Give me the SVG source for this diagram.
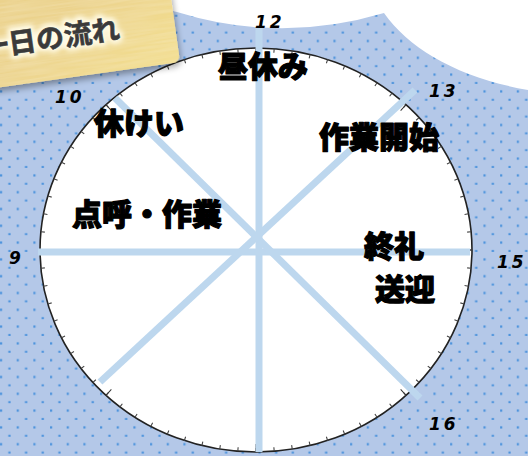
<svg xmlns="http://www.w3.org/2000/svg" width="528" height="456" viewBox="0 0 528 456">
<defs>
<pattern id="dots" patternUnits="userSpaceOnUse" x="0" y="0" width="16.67" height="16.8">
<rect x="0" y="6.3" width="2.2" height="2.2" fill="#4a92dc"/>
<rect x="8.33" y="14.7" width="2.2" height="2.2" fill="#4a92dc"/>
</pattern>
<filter id="shadow" x="-20%" y="-20%" width="140%" height="160%">
<feDropShadow dx="1" dy="4" stdDeviation="3" flood-color="#000" flood-opacity="0.35"/>
</filter>
<filter id="glow" x="-20%" y="-50%" width="140%" height="200%">
<feGaussianBlur stdDeviation="2.5"/>
</filter>
<filter id="grain" x="0" y="0" width="100%" height="100%">
<feTurbulence type="fractalNoise" baseFrequency="0.02 0.4" numOctaves="2" seed="3" result="n"/>
<feColorMatrix in="n" type="matrix" values="0 0 0 0 0.95  0 0 0 0 0.86  0 0 0 0 0.6  0 0 0 0.9 -0.2" result="c"/>
<feComposite in="c" in2="SourceGraphic" operator="in" result="t"/>
<feMerge><feMergeNode in="SourceGraphic"/><feMergeNode in="t"/></feMerge>
</filter>
<linearGradient id="paper" x1="0" y1="0" x2="1" y2="1">
<stop offset="0" stop-color="#e6c877"/>
<stop offset="0.6" stop-color="#ecd38c"/>
<stop offset="1" stop-color="#f3de8e"/>
</linearGradient>
</defs>
<style>
.lbl{font-family:"Noto Sans CJK JP","Noto Sans CJK SC",sans-serif;font-weight:900;font-size:30px;fill:#000;stroke:#000;stroke-width:1.2;stroke-linejoin:round;text-anchor:middle}
.num{font-family:"DejaVu Sans",sans-serif;font-weight:bold;font-style:italic;font-size:17px;letter-spacing:3px;fill:#000}
.spoke{stroke:#bdd7ee;stroke-width:7;fill:none}
.title{font-family:"Noto Sans CJK JP","Noto Sans CJK SC",sans-serif;font-weight:bold;font-size:28px}
</style>

<g id="background">
<rect width="528" height="456" fill="#b4c8e8"/>
<rect width="528" height="456" fill="url(#dots)"/>
<path d="M0,0 L528,0 L528,90 C460,78 410,50 384,13 Q280,44 177,12 L120,0 Z" fill="#ffffff"/>
</g>

<g id="clock-face">
<ellipse cx="256" cy="250" rx="216" ry="202" fill="#ffffff" stroke="#222" stroke-width="1.6"/>
<ellipse cx="256" cy="250" rx="214" ry="200" fill="none" stroke="#444" stroke-width="4" pathLength="72" stroke-dasharray="0.06 0.94" stroke-dashoffset="0.03"/>
<ellipse cx="256" cy="250" rx="212" ry="198" fill="none" stroke="#333" stroke-width="8" pathLength="8" stroke-dasharray="0.006 0.994" stroke-dashoffset="0.003"/>
</g>

<g id="connectors">
<line class="spoke" x1="259" y1="28" x2="259" y2="452"/>
<line class="spoke" x1="38" y1="252" x2="470" y2="252"/>
<line class="spoke" x1="115" y1="98" x2="420" y2="398"/>
<line class="spoke" x1="415" y1="90" x2="100" y2="382"/>
</g>

<g id="hours">
<text class="num" x="255" y="28">12</text>
<text class="num" x="429" y="97">13</text>
<text class="num" x="55" y="103">10</text>
<text class="num" x="9" y="264">9</text>
<text class="num" x="497" y="268">15</text>
<text class="num" x="429" y="430">16</text>
</g>

<g id="node-hirune"><text class="lbl" x="263" y="77">昼休み</text></g>
<g id="node-kyukei"><text class="lbl" x="139" y="134">休けい</text></g>
<g id="node-sagyo-kaishi"><text class="lbl" x="379" y="148">作業開始</text></g>
<g id="node-tenko"><text class="lbl" x="147" y="225">点呼・作業</text></g>
<g id="node-shurei"><text class="lbl" x="394" y="257">終礼</text></g>
<g id="node-sogei"><text class="lbl" x="405" y="300">送迎</text></g>

<g id="title-label">
<g transform="rotate(-8 180 62)" filter="url(#shadow)">
<rect x="-70" y="-90" width="250" height="152" rx="7" fill="url(#paper)"/>
</g>
<g transform="rotate(-8 180 62)">
<rect x="-70" y="-90" width="250" height="152" rx="7" fill="url(#paper)" filter="url(#grain)" opacity="0.6"/>
</g>
<g transform="rotate(-8 -18 58)">
<text class="title" x="-18" y="58" fill="#fffbe6" stroke="#fffbe6" stroke-width="7" stroke-linejoin="round" filter="url(#glow)">一日の流れ</text>
<text class="title" x="-18" y="58" fill="#3a3a3a" stroke="#3a3a3a" stroke-width="0.6">一日の流れ</text>
</g>
</g>
</svg>
